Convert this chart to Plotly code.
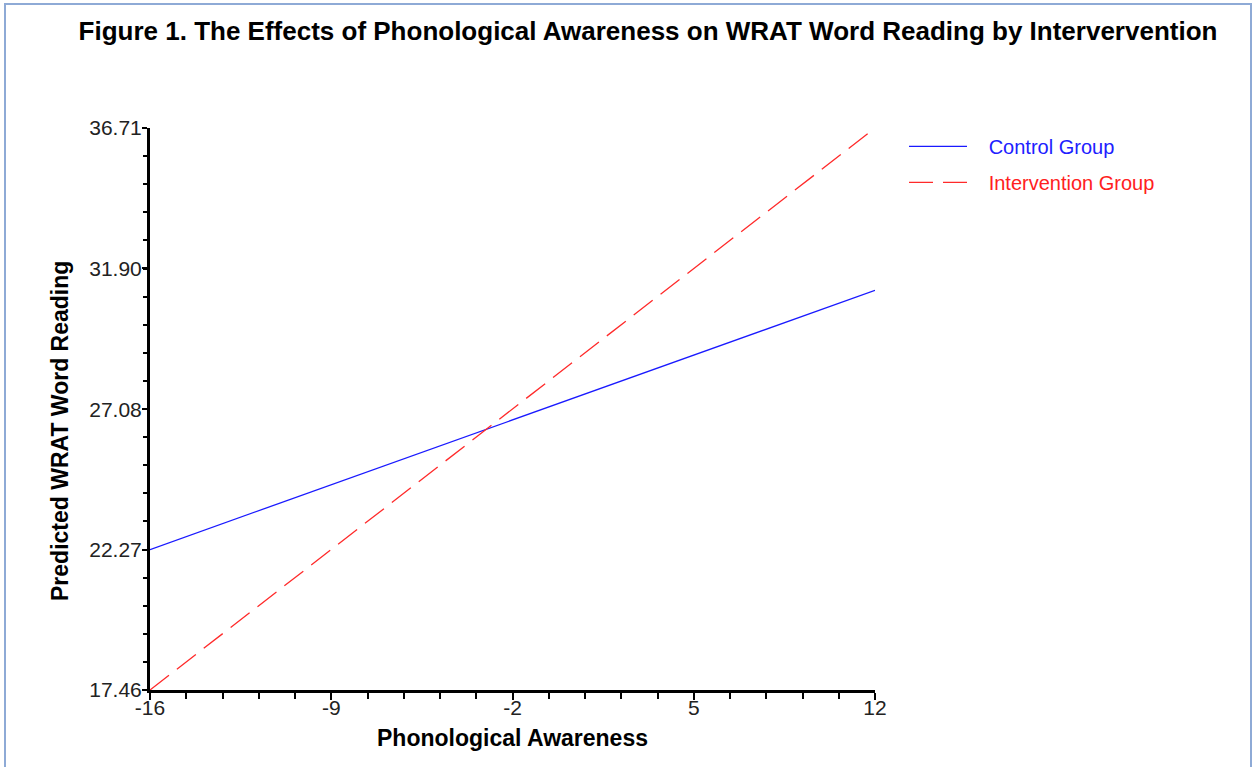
import plotly.graph_objects as go

# Dados (valores previstos nos extremos de PA)
pa = [-16, 12]
control = [22.27, 31.15]
intervention = [17.46, 36.71]

x_ticks = [-16, -9, -2, 5, 12]
x_ticktext = ["-16", "-9", "-2", "5", "12"]
y_ticks = [17.46, 22.27, 27.08, 31.90, 36.71]
y_ticktext = ["17.46", "22.27", "27.08", "31.90", "36.71"]

FONT = "Arial, Liberation Sans, sans-serif"
W, H = 1257, 767
L, R, T, B = 150, 382, 128, 77
pw, ph = W - L - R, H - T - B

fig = go.Figure()

fig.add_trace(go.Scatter(
    x=pa, y=control, mode='lines', legendgroup='c',
    name='&nbsp;&nbsp;&nbsp;<span style="color:#2020ff">Control Group</span>',
    line=dict(color='#1a1aff', width=1.3)
))

fig.add_trace(go.Scatter(
    x=pa, y=intervention, mode='lines', legendgroup='i',
    name='&nbsp;&nbsp;&nbsp;<span style="color:#ff2020">Intervention Group</span>',
    line=dict(color='#ff2a2a', width=1.3, dash='24px,10px')
))

# moldura da página
fig.add_shape(
    type='rect', xref='paper', yref='paper',
    x0=(5 - L) / pw, x1=(1251 - L) / pw,
    y0=(H - B - 800) / ph, y1=(H - B - 4) / ph,
    line=dict(color='#8eaad6', width=2), layer='below'
)

# título do eixo y (um pouco abaixo do centro, como no original)
fig.add_annotation(
    text='<b>Predicted WRAT Word Reading</b>',
    xref='paper', yref='paper', x=(60 - L) / pw, y=(H - B - 431) / ph,
    xanchor='center', yanchor='middle', textangle=-90, showarrow=False,
    font=dict(size=23, color='black', family=FONT)
)

fig.update_layout(
    width=W, height=H,
    margin=dict(l=L, r=R, t=T, b=B),
    paper_bgcolor='white', plot_bgcolor='white',
    font=dict(family=FONT, color='#222222'),
    title=dict(
        text='<b>Figure 1. The Effects of Phonological Awareness on WRAT Word Reading by Intervervention</b>',
        x=648 / W, xanchor='center', y=1 - 31 / H, yanchor='middle',
        font=dict(size=26, color='black', family=FONT)
    ),
    showlegend=True,
    legend=dict(
        x=1.04, y=1.002, xanchor='left', yanchor='top',
        font=dict(size=20, family=FONT),
        bgcolor='rgba(0,0,0,0)', itemwidth=58,
        traceorder='grouped', tracegroupgap=7
    )
)

fig.update_xaxes(
    range=[pa[0], pa[-1]], automargin=False,
    tickmode='array', tickvals=x_ticks, ticktext=x_ticktext,
    ticks='outside', ticklen=7, tickwidth=2, tickcolor='black',
    showline=True, linewidth=3, linecolor='black',
    showgrid=False, zeroline=False,
    tickfont=dict(size=21, color='#222222'), ticklabelstandoff=-10,
    minor=dict(tick0=-16, dtick=1.4, ticks='outside', ticklen=6, tickwidth=2, tickcolor='black', showgrid=False),
    title=dict(text='<b>Phonological Awareness</b>', font=dict(size=23, color='black'), standoff=12)
)

fig.update_yaxes(
    range=[y_ticks[0], y_ticks[-1]], automargin=False,
    tickmode='array', tickvals=y_ticks, ticktext=y_ticktext,
    ticks='outside', ticklen=5, tickwidth=2, tickcolor='black',
    showline=True, linewidth=3, linecolor='black',
    showgrid=False, zeroline=False,
    tickfont=dict(size=21, color='#222222'), ticklabelstandoff=-4,
    minor=dict(tick0=y_ticks[0], dtick=(y_ticks[-1] - y_ticks[0]) / 20, ticks='outside', ticklen=4, tickwidth=2, tickcolor='black', showgrid=False)
)

fig.write_html("out.html", config={'displayModeBar': False},
               post_script="document.body.style.margin='0';")
